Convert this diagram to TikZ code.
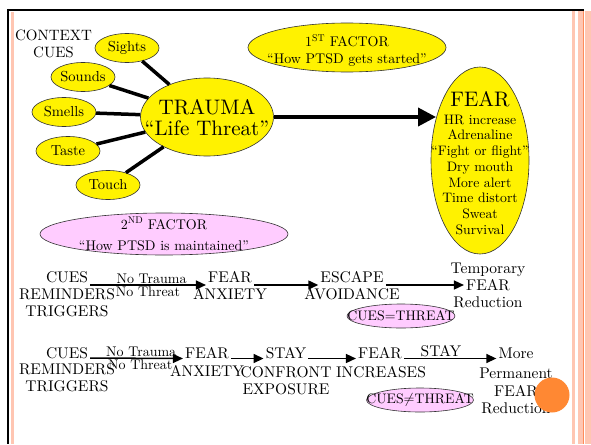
\documentclass[tikz,border=0pt]{standalone}
\usepackage{fontspec}
\setmainfont{lmroman10-regular}[Extension=.otf, Ligatures=TeX]
\usetikzlibrary{shapes.geometric,arrows.meta}
\definecolor{pinkoval}{RGB}{255,204,255}
\definecolor{stripe}{RGB}{255,198,178}
\definecolor{stripeline}{RGB}{255,140,90}
\definecolor{dot}{RGB}{255,136,51}
\tikzset{
  bubble/.style={ellipse, draw=black!80, line width=0.6pt, fill=yellow, inner sep=0pt},
  pinkbubble/.style={bubble, fill=pinkoval},
  cue/.style={bubble, minimum width=64pt, minimum height=29pt, font=\fontsize{14.5}{16}\selectfont},
  spoke/.style={line width=3.5pt},
  word/.style={font=\fontsize{15.5}{17}\selectfont, inner sep=2pt, anchor=base},
  tiny/.style={font=\fontsize{14}{15}\selectfont, inner sep=0pt},
  flow/.style={line width=1.5pt, -{Triangle[length=10pt,width=9pt]}},
}
\begin{document}
\begin{tikzpicture}[x=1pt,y=-1pt]
  \useasboundingbox (0,0) rectangle (591,444);
  \fill[white] (0,0) rectangle (591,444);
  \draw[line width=2pt] (8,10) -- (584,10);
  \draw[line width=2pt] (8,9) -- (8,444);
  \fill[stripe] (11,12) rectangle (13.5,444);
  \fill[stripe] (572,11) rectangle (575,444);
  \fill[stripe] (578,11) rectangle (583,444);
  \fill[stripe] (584.5,11) rectangle (591,444);
  \draw[stripeline, line width=1pt] (583.7,11) -- (583.7,444);

  \node[align=center, font=\fontsize{15}{17}\selectfont, inner sep=0pt] (context) at (53.5,43.5) {CONTEXT\\CUES};

  \node[bubble, minimum width=133pt, minimum height=78pt] (trauma) at (207,117) {};
  \node[align=center, font=\fontsize{21}{21}\selectfont, inner sep=0pt] (traumatext) at ([yshift=-0.5pt]trauma) {TRAUMA\\``Life Threat''};
  \node[cue] (sights) at (127,48) {Sights};
  \node[cue] (sounds) at (83,77) {Sounds};
  \node[cue] (smells) at (64,112) {Smells};
  \node[cue] (taste) at (68,151) {Taste};
  \node[cue] (touch) at (108,185) {Touch};
  \foreach \c in {sights,sounds,smells,taste,touch}
    \draw[spoke] (trauma) -- (\c);

  \node[bubble, minimum width=198pt, minimum height=49pt] (first) at (347,47.5) {};
  \node[align=center, font=\fontsize{14}{17.5}\selectfont, inner sep=0pt] (firsttext) at ([yshift=-3pt]first) {1\textsuperscript{ST} FACTOR\\``How PTSD gets started''};

  \node[bubble, minimum width=98pt, minimum height=187pt] (fear) at (480,160.5) {};
  \node[align=center, font=\fontsize{13.7}{15.7}\selectfont, inner sep=0pt] (feartext) at ([yshift=-2.5pt]fear)
    {{\fontsize{21}{22}\selectfont FEAR}\\[2pt] HR increase\\ Adrenaline\\ ``Fight or flight''\\ Dry mouth\\ More alert\\ Time distort\\ Sweat\\ Survival};
  \draw[line width=3.7pt, -{Triangle[length=18pt,width=18pt]}] (trauma) -- (trauma -| fear.136);

  \node[pinkbubble, minimum width=248pt, minimum height=42pt] (second) at (164,234) {};
  \node[align=center, font=\fontsize{14}{17.5}\selectfont, inner sep=0pt] (secondtext) at (second) {2\textsuperscript{ND} FACTOR\\[4pt]``How PTSD is maintained''};

  \node[word] (cues1) at (67,282) {CUES};
  \node[word] (rem1) at (67,299) {REMINDERS};
  \node[word] (trig1) at (67,316) {TRIGGERS};
  \node[word] (fear1) at (230,282) {FEAR};
  \node[word] (anx1) at (230,299) {ANXIETY};
  \node[word] (escape) at (352,282) {ESCAPE};
  \node[word] (avoid) at (352,299) {AVOIDANCE};
  \node[word] (temp) at (488,273) {Temporary};
  \node[word] (fearT) at (488,290) {FEAR};
  \node[word] (reduc1) at (488,307) {Reduction};
  \node[pinkbubble, minimum width=108pt, minimum height=24pt] (threat1) at (401,316) {};
  \node[font=\fontsize{13.8}{14}\selectfont, inner sep=0pt] (threat1text) at (threat1) {CUES=THREAT};
  \draw[flow] ([yshift=-3pt]cues1.base east) --
    node[tiny, above=1pt, pos=.53] (nt1) {No Trauma}
    node[tiny, below=1pt, pos=.5] (nth1) {No Threat} ([yshift=-3pt]fear1.base west);
  \draw[flow] ([yshift=-3pt]fear1.base east) -- ([yshift=-3pt]escape.base west);
  \draw[flow] ([yshift=-3pt]escape.base east) -- ([yshift=5pt]fearT.base west);

  \node[word] (cues2) at (67,358) {CUES};
  \node[word] (rem2) at (67,374) {REMINDERS};
  \node[word] (trig2) at (67,391) {TRIGGERS};
  \node[word] (fear2) at (207,358.5) {FEAR};
  \node[word] (anx2) at (207,376) {ANXIETY};
  \node[word] (stay) at (286,358.5) {STAY};
  \node[word] (confront) at (286,377) {CONFRONT};
  \node[word] (expo) at (286,394) {EXPOSURE};
  \node[word] (fear3) at (380,358.5) {FEAR};
  \node[word] (incr) at (381,377) {INCREASES};
  \node[word] (more) at (516,358.5) {More};
  \node[word] (perm) at (516,378) {Permanent};
  \node[word] (fearP) at (516,396) {FEAR};
  \node[word] (reduc2) at (516,413) {Reduction};
  \node[pinkbubble, minimum width=107pt, minimum height=24pt] (threat2) at (420,400) {};
  \node[font=\fontsize{13.8}{14}\selectfont, inner sep=0pt] (threat2text) at (threat2) {CUES$\neq$THREAT};
  \draw[flow] (cues2.base east) --
    node[tiny, above=1pt, pos=.55] (nt2) {No Trauma}
    node[tiny, below=1pt, pos=.54] (nth2) {No Threat} (fear2.base west);
  \draw[flow] (fear2.base east) -- (stay.base west);
  \draw[flow] (stay.base east) -- (fear3.base west);
  \draw[flow] (fear3.base east) -- node[word, anchor=south, inner sep=1pt, pos=.4] (stay2) {STAY} (more.base west);

  \fill[dot] (552,395) circle (17.5pt);
\end{tikzpicture}
\end{document}
